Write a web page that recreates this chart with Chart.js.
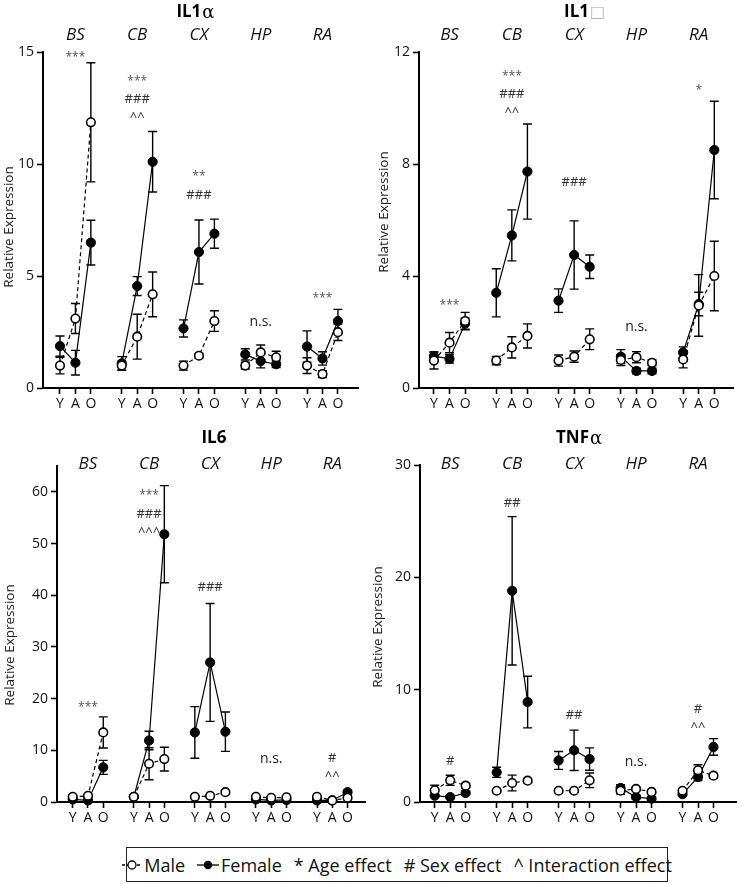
<!DOCTYPE html>
<html lang="en">
<head>
<meta charset="UTF-8">
<title>Cytokine expression by region, age and sex</title>
<script src="https://cdn.jsdelivr.net/npm/chart.js"></script>
<style>
  body { margin: 0; background: #fff; font-family: "Open Sans", sans-serif; }
  #wrap { position: relative; width: 742px; height: 884px; }
  canvas { position: absolute; }
  #legend {
    position: absolute; left: 126px; top: 847px; width: 540px; height: 33px;
    border: 1px solid #222; display: flex; align-items: center; justify-content: center;
    font-size: 18px; color: #111; white-space: nowrap;
  }
  #legend .item { display: inline-flex; align-items: center; margin: 0 6px; }
  #legend svg { margin-right: 2px; }
</style>
</head>
<body>
<div id="wrap">
  <canvas id="c1" width="371" height="420" style="left:0;top:0"></canvas>
  <canvas id="c2" width="371" height="420" style="left:371px;top:0"></canvas>
  <canvas id="c3" width="371" height="420" style="left:0;top:420px"></canvas>
  <canvas id="c4" width="371" height="420" style="left:371px;top:420px"></canvas>
  <div id="legend">
    <span class="item"><svg width="20" height="12"><line x1="0" y1="6" x2="20" y2="6" stroke="#000" stroke-width="1.3" stroke-dasharray="3 2"/><circle cx="10" cy="6" r="4" fill="#fff" stroke="#000" stroke-width="1.3"/></svg>Male</span>
    <span class="item"><svg width="22" height="12"><line x1="0" y1="6" x2="22" y2="6" stroke="#000" stroke-width="1.3"/><circle cx="11" cy="6" r="4.2" fill="#000"/></svg>Female</span>
    <span class="item">* Age effect</span>
    <span class="item"># Sex effect</span>
    <span class="item">^ Interaction effect</span>
  </div>
</div>
<script>
  const regions = ['BS', 'CB', 'CX', 'HP', 'RA'];
  const ages = ['Y', 'A', 'O'];

  // values are listed region by region: BS Y,A,O  CB Y,A,O  CX ...  HP ...  RA ...
  // IL1 alpha
  const il1aMale = [1.0, 3.1, 11.86, 1.0, 2.29, 4.18, 1.0, 1.44, 2.99, 1.0, 1.59, 1.37, 1.0, 0.62, 2.49];
  const il1aMaleSem = [0.37, 0.67, 2.66, 0.2, 1.0, 1.0, 0.2, 0.1, 0.46, 0.15, 0.33, 0.27, 0.35, 0.15, 0.37];
  const il1aFemale = [1.87, 1.13, 6.49, 1.1, 4.55, 10.1, 2.66, 6.07, 6.89, 1.5, 1.2, 1.06, 1.85, 1.32, 2.99];
  const il1aFemaleSem = [0.45, 0.55, 1.0, 0.3, 0.42, 1.35, 0.38, 1.43, 0.65, 0.25, 0.3, 0.15, 0.7, 0.3, 0.52];
  const il1aTicks = [0, 5, 10, 15];
  const il1aNotes = [['***'], ['***', '###', '^^'], ['**', '###'], ['n.s.'], ['***']];
  const il1aNoteAt = [14.73, 13.7, 9.42, 2.95, 3.97];

  // IL1 beta
  const il1bMale = [0.98, 1.62, 2.39, 0.98, 1.45, 1.86, 0.98, 1.12, 1.74, 1.0, 1.1, 0.9, 1.02, 2.95, 4.0];
  const il1bMaleSem = [0.3, 0.36, 0.31, 0.15, 0.38, 0.43, 0.2, 0.2, 0.37, 0.2, 0.2, 0.1, 0.3, 1.1, 1.24];
  const il1bFemale = [1.14, 1.04, 2.3, 3.4, 5.45, 7.73, 3.12, 4.75, 4.33, 1.12, 0.61, 0.61, 1.27, 3.0, 8.5];
  const il1bFemaleSem = [0.15, 0.15, 0.2, 0.86, 0.91, 1.7, 0.42, 1.22, 0.42, 0.25, 0.1, 0.1, 0.2, 0.42, 1.74];
  const il1bTicks = [0, 4, 8, 12];
  const il1bNotes = [['***'], ['***', '###', '^^'], ['###'], ['n.s.'], ['*']];
  const il1bNoteAt = [2.96, 11.14, 7.36, 2.18, 10.64];

  // IL6
  const il6Male = [1.0, 1.2, 13.46, 1.0, 7.4, 8.3, 1.0, 1.2, 1.9, 1.0, 0.8, 0.9, 1.0, 0.3, 0.8];
  const il6MaleSem = [0.3, 0.3, 3.0, 0.3, 3.1, 2.3, 0.2, 0.2, 0.3, 0.2, 0.2, 0.2, 0.2, 0.1, 0.3];
  const il6Female = [0.5, 0.3, 6.7, 1.0, 11.9, 51.8, 13.46, 27.0, 13.6, 0.5, 0.3, 0.4, 0.3, 0.3, 1.9];
  const il6FemaleSem = [0.2, 0.2, 1.35, 0.2, 1.8, 9.4, 5.0, 11.4, 3.8, 0.2, 0.1, 0.1, 0.1, 0.1, 0.5];
  const il6Ticks = [0, 10, 20, 30, 40, 50, 60];
  const il6Notes = [['***'], ['***', '###', '^^^'], ['###'], ['n.s.'], ['#', '^^']];
  const il6NoteAt = [18.2, 59.2, 41.6, 8.3, 8.5];

  // TNF alpha
  const tnfMale = [1.04, 1.93, 1.45, 1.0, 1.69, 1.9, 1.0, 1.0, 1.93, 1.0, 1.16, 0.9, 1.0, 2.82, 2.34];
  const tnfMaleSem = [0.45, 0.45, 0.2, 0.1, 0.7, 0.2, 0.1, 0.1, 0.65, 0.3, 0.15, 0.1, 0.1, 0.5, 0.2];
  const tnfFemale = [0.56, 0.44, 0.8, 2.64, 18.8, 8.9, 3.7, 4.6, 3.82, 1.25, 0.44, 0.3, 0.7, 2.22, 4.9];
  const tnfFemaleSem = [0.1, 0.1, 0.2, 0.45, 6.6, 2.3, 0.8, 1.8, 1.0, 0.3, 0.15, 0.1, 0.1, 0.3, 0.74];
  const tnfTicks = [0, 10, 20, 30];
  const tnfNotes = [['#'], ['##'], ['##'], ['n.s.'], ['#', '^^']];
  const tnfNoteAt = [3.65, 26.6, 7.75, 3.56, 8.28];

  const font = '"Open Sans", sans-serif';

  // x slot of every point: regions sit 4 slots apart, leaving one empty slot between them
  const slots = [];
  regions.forEach((r, g) => ages.forEach((a, i) => slots.push(g * 4 + i)));

  function toPoints(values, sem) {
    const pts = [], err = [];
    values.forEach((v, k) => {
      if (k > 0 && k % 3 === 0) { pts.push({ x: slots[k] - 1, y: null }); err.push(null); }
      pts.push({ x: slots[k], y: v });
      err.push(sem[k]);
    });
    return { pts, err };
  }

  const decor = {
    id: 'decor',
    beforeDatasetsDraw(chart) {
      const { ctx, scales: { x, y } } = chart;
      ctx.save();
      ctx.strokeStyle = '#000';
      ctx.lineWidth = 1.4;
      chart.data.datasets.forEach(ds => {
        ds.data.forEach((p, i) => {
          if (p.y == null) return;
          const e = ds.sem[i];
          const px = x.getPixelForValue(p.x);
          const top = y.getPixelForValue(p.y + e);
          const bot = y.getPixelForValue(Math.max(0, p.y - e));
          ctx.beginPath();
          ctx.moveTo(px, top); ctx.lineTo(px, bot);
          ctx.moveTo(px - 4.5, top); ctx.lineTo(px + 4.5, top);
          ctx.moveTo(px - 4.5, bot); ctx.lineTo(px + 4.5, bot);
          ctx.stroke();
        });
      });
      ctx.restore();
    },
    afterDraw(chart, args, o) {
      const { ctx, scales: { x, y } } = chart;
      ctx.save();
      ctx.textAlign = 'center';
      ctx.textBaseline = 'middle';

      // title, greek letter in a lighter serif face
      const tx = x.getPixelForValue(o.titleAt);
      const gFont = o.greekFont || '18px "DejaVu Serif", serif';
      ctx.font = 'bold 17px ' + font;
      const w1 = ctx.measureText(o.title).width;
      ctx.font = gFont;
      const w2 = o.greek ? ctx.measureText(o.greek).width : 0;
      const x0 = tx - (w1 + w2) / 2;
      ctx.textAlign = 'left';
      ctx.fillStyle = '#000';
      ctx.font = 'bold 17px ' + font;
      ctx.fillText(o.title, x0, o.titleY);
      if (o.greek) {
        ctx.fillStyle = o.greekColor || '#000';
        ctx.font = gFont;
        ctx.fillText(o.greek, x0 + w1 + 1, o.titleY + 1);
      }
      ctx.textAlign = 'center';

      // region names
      ctx.fillStyle = '#111';
      ctx.font = 'italic 17px ' + font;
      regions.forEach((r, g) => ctx.fillText(r, x.getPixelForValue(g * 4 + 1), o.regionY));

      // significance marks
      o.notes.forEach((lines, g) => {
        const px = x.getPixelForValue(g * 4 + 1);
        const py = y.getPixelForValue(o.noteAt[g]);
        lines.forEach((t, j) => {
          if (t[0] === '*') { ctx.font = '12px ' + font; ctx.fillStyle = '#555'; }
          else if (t === 'n.s.') { ctx.font = '14px ' + font; ctx.fillStyle = '#222'; }
          else { ctx.font = '13px ' + font; ctx.fillStyle = '#333'; }
          ctx.fillText(t, px, py + j * 18);
        });
      });

      // y axis title
      ctx.translate(o.yTitleX, o.yTitleY);
      ctx.rotate(-Math.PI / 2);
      ctx.font = '13.5px ' + font;
      ctx.fillStyle = '#222';
      ctx.fillText('Relative Expression', 0, 0);
      ctx.restore();
    }
  };

  function makePanel(id, p) {
    const m = toPoints(p.male, p.maleSem);
    const f = toPoints(p.female, p.femaleSem);
    const L = p.layout;
    const axisGrid = { drawOnChartArea: false, drawTicks: true, tickLength: 6, tickWidth: 1.6, tickColor: '#000' };
    new Chart(document.getElementById(id), {
      type: 'line',
      data: {
        datasets: [
          {
            label: 'Male', data: m.pts, sem: m.err,
            borderColor: '#000', borderWidth: 1.2, borderDash: [4, 3],
            pointRadius: 4.3, pointBorderWidth: 1.6, pointBackgroundColor: '#fff', pointBorderColor: '#000',
            spanGaps: false, clip: false
          },
          {
            label: 'Female', data: f.pts, sem: f.err,
            borderColor: '#000', borderWidth: 1.2,
            pointRadius: 4.6, pointBorderWidth: 1, pointBackgroundColor: '#000', pointBorderColor: '#000',
            spanGaps: false, clip: false
          }
        ]
      },
      options: {
        responsive: false,
        animation: false,
        devicePixelRatio: 1,
        layout: { padding: { top: L.top, right: L.right, bottom: 0, left: 0 } },
        plugins: {
          legend: { display: false },
          tooltip: { enabled: false },
          decor: {
            title: p.title, greek: p.greek, greekColor: p.greekColor, greekFont: p.greekFont,
            notes: p.notes, noteAt: p.noteAt,
            titleAt: L.titleAt, titleY: L.titleY, regionY: L.regionY, yTitleX: L.yTitleX, yTitleY: L.yTitleY
          }
        },
        scales: {
          x: {
            type: 'linear', min: L.xMin, max: L.xMax,
            afterBuildTicks: s => { s.ticks = slots.map(v => ({ value: v })); },
            afterFit: s => { s.height = 420 - L.bottom; },
            ticks: {
              autoSkip: false, maxRotation: 0, padding: 2, color: '#111',
              font: { family: font, size: 14 },
              callback: v => ages[v % 4]
            },
            grid: axisGrid,
            border: { color: '#000', width: 2 }
          },
          y: {
            min: 0, max: p.yMax,
            afterBuildTicks: s => { s.ticks = p.ticks.map(v => ({ value: v })); },
            afterFit: s => { s.width = L.left; },
            ticks: { padding: 3, color: '#111', font: { family: font, size: 14 } },
            grid: axisGrid,
            border: { color: '#000', width: 2 }
          }
        }
      },
      plugins: [decor]
    });
  }

  makePanel('c1', {
    title: 'IL1', greek: 'α', male: il1aMale, maleSem: il1aMaleSem, female: il1aFemale, femaleSem: il1aFemaleSem,
    yMax: 15, ticks: il1aTicks, notes: il1aNotes, noteAt: il1aNoteAt,
    layout: { top: 52, bottom: 388, left: 43, right: 13, xMin: -1.1, xMax: 19.3, titleAt: 8.74, titleY: 12, regionY: 35, yTitleX: 9, yTitleY: 227 }
  });
  makePanel('c2', {
    title: 'IL1', greek: '□', greekColor: '#bbb', greekFont: '16px "DejaVu Sans", sans-serif',
    male: il1bMale, maleSem: il1bMaleSem, female: il1bFemale, femaleSem: il1bFemaleSem,
    yMax: 12, ticks: il1bTicks, notes: il1bNotes, noteAt: il1bNoteAt,
    layout: { top: 52, bottom: 388, left: 48, right: 9, xMin: -0.96, xMax: 19.2, titleAt: 9.64, titleY: 12, regionY: 35, yTitleX: 13, yTitleY: 212 }
  });
  makePanel('c3', {
    title: 'IL6', greek: '', male: il6Male, maleSem: il6MaleSem, female: il6Female, femaleSem: il6FemaleSem,
    yMax: 65, ticks: il6Ticks, notes: il6Notes, noteAt: il6NoteAt,
    layout: { top: 46, bottom: 382, left: 57, right: 0, xMin: -1.03, xMax: 19.15, titleAt: 9.25, titleY: 18, regionY: 44, yTitleX: 10, yTitleY: 225 }
  });
  makePanel('c4', {
    title: 'TNF', greek: 'α', male: tnfMale, maleSem: tnfMaleSem, female: tnfFemale, femaleSem: tnfFemaleSem,
    yMax: 30, ticks: tnfTicks, notes: tnfNotes, noteAt: tnfNoteAt,
    layout: { top: 45, bottom: 382, left: 49, right: 1, xMin: -0.95, xMax: 19.46, titleAt: 9.29, titleY: 18, regionY: 44, yTitleX: 7, yTitleY: 207 }
  });
</script>
</body>
</html>
